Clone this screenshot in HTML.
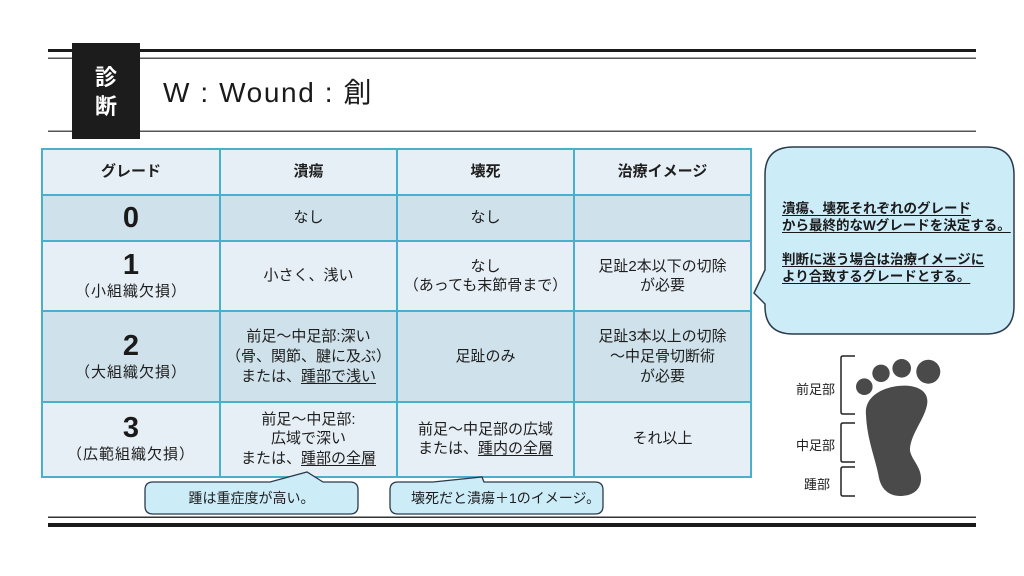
<!DOCTYPE html>
<html><head><meta charset="utf-8">
<style>
html,body{margin:0;padding:0;}
body{width:1024px;height:576px;position:relative;overflow:hidden;background:#fff;font-family:"Liberation Sans","Noto Sans CJK JP",sans-serif;color:#1e1e1e;}
.a{position:absolute;}
.cell{position:absolute;display:flex;flex-direction:column;align-items:center;justify-content:center;text-align:center;font-size:15px;line-height:19.5px;box-sizing:border-box;}
.lt{background:#e7eff6;}
.dk{background:#cfe1ea;}
.hd{font-weight:bold;font-size:15px;}
.num{font-size:29px;line-height:30px;font-weight:bold;font-family:"Liberation Sans",sans-serif;color:#1a1a1a;}
.sub{font-size:15px;line-height:20px;letter-spacing:1px;margin-top:2px;}
.vl{position:absolute;width:2px;background:#4aafcd;}
.hl{position:absolute;height:2px;background:#4aafcd;}
u{text-decoration:underline;text-decoration-thickness:1px;text-underline-offset:2px;}
</style></head><body>

<svg class="a" style="left:0;top:0" width="1024" height="576" viewBox="0 0 1024 576">
  <rect x="48" y="49" width="928" height="3" fill="#1a1a1a"/>
  <rect x="48" y="57.5" width="928" height="1.5" fill="#555"/>
  <rect x="48" y="130.5" width="928" height="1.5" fill="#555"/>
  <rect x="48" y="516.5" width="928" height="1.5" fill="#333"/>
  <rect x="48" y="523" width="928" height="4" fill="#1a1a1a"/>
  <rect x="72" y="43" width="68" height="96" fill="#1c1c1c"/>

  <path d="M793 147 H986 Q1014 147 1014 175 V306 Q1014 334 986 334 H793 Q765 334 765 306 V304 L754 293 L765 270 V175 Q765 147 793 147 Z" fill="#ccecf8" stroke="#2b3b4c" stroke-width="1.5"/>

  <path d="M855 356 H843 Q841 356 841 358 V412 Q841 414 843 414 H855" fill="none" stroke="#222" stroke-width="1.5"/>
  <path d="M855 423 H843 Q841 423 841 425 V460 Q841 462 843 462 H855" fill="none" stroke="#222" stroke-width="1.5"/>
  <path d="M855 467 H843 Q841 467 841 469 V494 Q841 496 843 496 H855" fill="none" stroke="#222" stroke-width="1.5"/>

  <g fill="#4a4a4a">
    <circle cx="864.3" cy="386.7" r="8.3"/>
    <circle cx="881" cy="373.3" r="8.7"/>
    <circle cx="901.7" cy="368.3" r="9.3"/>
    <circle cx="928.3" cy="371.7" r="12"/>
    <path d="M866 415 C864 398 880 388 898 386 C915 384 930 390 927 405 C924 420 912 432 910 448 C909 458 922 466 921 480 C920 492 910 496 900 496 C888 496 881 488 879 478 C876 460 867 440 866 415 Z"/>
  </g>
</svg>

<div class="a" style="left:72px;top:63px;width:68px;text-align:center;color:#fff;font-weight:bold;font-size:22px;line-height:29px;">診<br>断</div>

<div class="a" style="left:163px;top:79px;font-size:28px;line-height:28px;letter-spacing:1.6px;color:#1a1a1a;white-space:nowrap;">W : Wound : 創</div>

<div class="cell lt hd" style="left:42px;top:149px;width:178px;height:46px;">グレード</div>
<div class="cell lt hd" style="left:220px;top:149px;width:177px;height:46px;">潰瘍</div>
<div class="cell lt hd" style="left:397px;top:149px;width:177px;height:46px;">壊死</div>
<div class="cell lt hd" style="left:574px;top:149px;width:177px;height:46px;">治療イメージ</div>

<div class="cell dk" style="left:42px;top:195px;width:178px;height:46px;"><div class="num">0</div></div>
<div class="cell dk" style="left:220px;top:195px;width:177px;height:46px;">なし</div>
<div class="cell dk" style="left:397px;top:195px;width:177px;height:46px;">なし</div>
<div class="cell dk" style="left:574px;top:195px;width:177px;height:46px;"></div>

<div class="cell lt" style="left:42px;top:241px;width:178px;height:70px;"><div class="num">1</div><div class="sub">（小組織欠損）</div></div>
<div class="cell lt" style="left:220px;top:241px;width:177px;height:70px;">小さく、浅い</div>
<div class="cell lt" style="left:397px;top:241px;width:177px;height:70px;"><div>なし</div><div>（あっても末節骨まで）</div></div>
<div class="cell lt" style="left:574px;top:241px;width:177px;height:70px;"><div>足趾2本以下の切除</div><div>が必要</div></div>

<div class="cell dk" style="left:42px;top:311px;width:178px;height:91px;"><div class="num">2</div><div class="sub">（大組織欠損）</div></div>
<div class="cell dk" style="left:220px;top:311px;width:177px;height:91px;line-height:20px;"><div>前足〜中足部:深い</div><div>（骨、関節、腱に及ぶ）</div><div>または、<u>踵部で浅い</u></div></div>
<div class="cell dk" style="left:397px;top:311px;width:177px;height:91px;">足趾のみ</div>
<div class="cell dk" style="left:574px;top:311px;width:177px;height:91px;line-height:20px;"><div>足趾3本以上の切除</div><div>〜中足骨切断術</div><div>が必要</div></div>

<div class="cell lt" style="left:42px;top:402px;width:178px;height:74px;"><div class="num">3</div><div class="sub">（広範組織欠損）</div></div>
<div class="cell lt" style="left:220px;top:402px;width:177px;height:74px;"><div>前足〜中足部:</div><div>広域で深い</div><div>または、<u>踵部の全層</u></div></div>
<div class="cell lt" style="left:397px;top:402px;width:177px;height:74px;"><div>前足〜中足部の広域</div><div>または、<u>踵内の全層</u></div></div>
<div class="cell lt" style="left:574px;top:402px;width:177px;height:74px;">それ以上</div>

<div class="vl" style="left:41px;top:148px;height:330px;"></div>
<div class="vl" style="left:219px;top:148px;height:330px;"></div>
<div class="vl" style="left:396px;top:148px;height:330px;"></div>
<div class="vl" style="left:573px;top:148px;height:330px;"></div>
<div class="vl" style="left:750px;top:148px;height:330px;"></div>
<div class="hl" style="left:41px;top:148px;width:711px;"></div>
<div class="hl" style="left:41px;top:194px;width:711px;"></div>
<div class="hl" style="left:41px;top:240px;width:711px;"></div>
<div class="hl" style="left:41px;top:310px;width:711px;"></div>
<div class="hl" style="left:41px;top:401px;width:711px;"></div>
<div class="hl" style="left:41px;top:476px;width:711px;"></div>

<svg class="a" style="left:0;top:0" width="1024" height="576" viewBox="0 0 1024 576">
  <path d="M153 482 H270 L307 472 L323 482 H350 Q358 482 358 490 V506 Q358 514 350 514 H153 Q145 514 145 506 V490 Q145 482 153 482 Z" fill="#ccecf8" stroke="#2b3b4c" stroke-width="1.3"/>
  <path d="M398 482 H433 L482 477 L484 482 H595 Q603 482 603 490 V506 Q603 514 595 514 H398 Q390 514 390 506 V490 Q390 482 398 482 Z" fill="#ccecf8" stroke="#2b3b4c" stroke-width="1.3"/>
</svg>

<div class="a" style="left:782px;top:200px;font-size:13.5px;line-height:17px;font-weight:bold;color:#1a1a1a;white-space:nowrap;">
<u>潰瘍、壊死それぞれのグレード</u><br>
<u>から最終的なWグレードを決定する。</u><br>
<br>
<u>判断に迷う場合は治療イメージに</u><br>
<u>より合致するグレードとする。</u>
</div>

<div class="a" style="left:145px;top:488px;width:213px;text-align:center;font-size:14px;line-height:20px;white-space:nowrap;">踵は重症度が高い。</div>
<div class="a" style="left:411px;top:488px;font-size:14px;line-height:20px;white-space:nowrap;">壊死だと潰瘍＋1のイメージ。</div>

<div class="a" style="left:796px;top:381px;font-size:13px;line-height:18px;white-space:nowrap;">前足部</div>
<div class="a" style="left:796px;top:437px;font-size:13px;line-height:18px;white-space:nowrap;">中足部</div>
<div class="a" style="left:804px;top:476px;font-size:13px;line-height:18px;white-space:nowrap;">踵部</div>

</body></html>
